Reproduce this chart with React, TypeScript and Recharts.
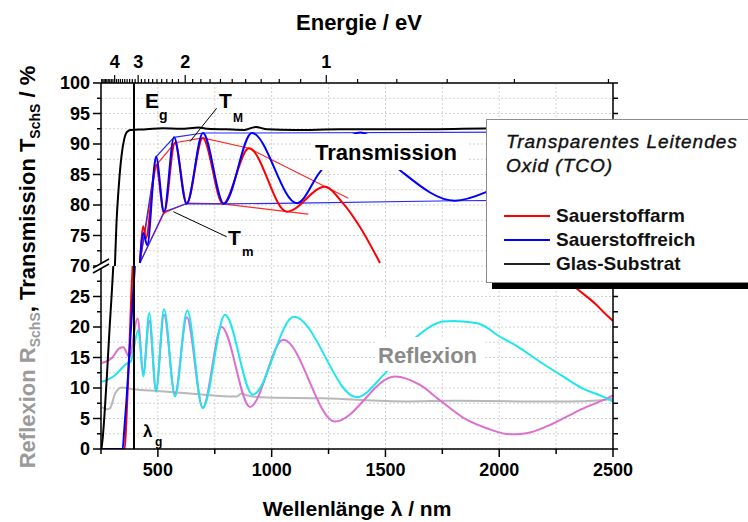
import React from 'react';
import { LineChart, Line, XAxis, YAxis, CartesianGrid, ReferenceLine, Legend } from 'recharts';

const FONT = '"Liberation Sans", Arial, Helvetica, sans-serif';

// y axis is broken: 30..70 % is cut out
const BREAK_LOW = 30;
const BREAK_HIGH = 70;
const GAP = BREAK_HIGH - BREAK_LOW;

type Pt = [number, number];

// Transmission (wavelength nm, %)
const GLASS_T: Pt[] = [
  [252, 0], [258, 2], [266, 6], [276, 12], [288, 20], [298, 26], [304, 30], [308, 50], [311, 70],
  [318, 77], [328, 83], [340, 88], [352, 90.8], [365, 92.0], [380, 92.3], [450, 92.4], [520, 92.6],
  [600, 92.5], [680, 92.7], [720, 92.5], [800, 92.4], [880, 92.3], [930, 92.8], [980, 92.4],
  [1100, 92.3], [1300, 92.4], [1600, 92.4], [2000, 92.6], [2500, 92.7],
];
const RED_T: Pt[] = [
  [330, 0], [354, 0], [362, 5], [370, 12], [378, 20], [384, 26], [389, 30], [405, 50],
  [421, 70.5], [436, 76.5], [447, 74.5], [492, 86.5], [527, 78.7], [575, 90.2], [627, 80.3],
  [697, 91.0], [786, 80.2], [900, 89.3], [1067, 78.9], [1234, 83.0], [1313, 80.3], [1388, 76.4],
  [1476, 70.5], [1600, 60], [1900, 45], [2150, 34], [2220, 30], [2347, 26.1], [2428, 23.6],
  [2457, 22.5], [2500, 21.0],
];
const BLUE_T: Pt[] = [
  [252, 0], [345, 0], [352, 3], [362, 8], [372, 14], [382, 20], [392, 26], [399, 30], [410, 50],
  [421, 70.5], [436, 75.4], [453, 73.4], [492, 87.9], [527, 78.9], [571, 91.1], [626, 80.2],
  [698, 91.8], [790, 80.2], [913, 91.8], [1111, 80.3], [1212, 85.4], [1390, 91.9], [1564, 85.7],
  [1805, 80.7], [1942, 82.1], [2150, 87], [2450, 91.8], [2500, 91.7],
];

// envelopes T_M / T_m
const BLUE_TMAX: Pt[] = [[421, 70.5], [492, 87.9], [571, 91.1], [698, 91.8], [913, 91.8], [2500, 92.0]];
const BLUE_TMIN: Pt[] = [[421, 70.5], [527, 78.9], [626, 80.2], [790, 80.2], [1111, 80.3], [1805, 80.7], [2500, 80.9]];
const RED_TMAX: Pt[] = [[421, 70.5], [492, 86.5], [575, 90.2], [697, 91.0], [900, 89.3], [1337, 81.1]];
const RED_TMIN: Pt[] = [[421, 70.5], [527, 78.7], [627, 80.3], [786, 80.2], [1067, 78.9], [1161, 78.5]];

// Reflection
const GLASS_R: Pt[] = [
  [253, 6.9], [275, 6.5], [290, 6.7], [312, 9.1], [341, 10.1], [392, 9.8], [500, 9.5], [641, 9.1],
  [846, 8.6], [868, 9.1], [890, 8.8], [949, 8.5], [1227, 8.3], [1593, 7.8], [1800, 7.9],
  [2100, 7.8], [2300, 7.8], [2450, 8.0], [2500, 8.3],
];
const PINK_R: Pt[] = [
  [253, 14.1], [300, 15.0], [330, 16.5], [348, 16.7], [374, 15.1], [411, 21.4], [436, 12.5],
  [462, 21.0], [492, 9.8], [527, 22.0], [575, 9.0], [627, 21.6], [697, 6.8], [780, 20.0],
  [905, 6.9], [1051, 17.9], [1278, 4.5], [1542, 11.9], [1652, 10.5], [1739, 8.0], [1857, 4.8],
  [1945, 3.4], [2047, 2.4], [2120, 2.6], [2208, 3.7], [2296, 5.3], [2384, 6.9], [2457, 8.0],
  [2500, 8.8],
];
const CYAN_R: Pt[] = [
  [253, 11.0], [312, 12.1], [363, 14.0], [380, 14.3], [414, 19.5], [436, 11.9], [462, 22.3],
  [492, 9.4], [527, 22.9], [575, 8.6], [629, 22.7], [697, 6.7], [795, 22.0], [917, 8.9],
  [1098, 21.7], [1373, 8.5], [1498, 12.4], [1634, 18.3], [1753, 20.9], [1800, 21.0], [1840, 20.9],
  [1915, 20.5], [2003, 18.4], [2076, 16.9], [2179, 14.3], [2280, 11.9], [2368, 9.9], [2456, 8.6],
  [2500, 7.8],
];

// ticks
const X_TICKS = [250, 500, 750, 1000, 1250, 1500, 1750, 2000, 2250, 2500];
const X_LABELED = [500, 1000, 1500, 2000, 2500];
const EV_TICKS = [
  4.9, 4.8, 4.7, 4.6, 4.5, 4.4, 4.3, 4.2, 4.1, 4, 3.9, 3.8, 3.7, 3.6, 3.5, 3.4, 3.3, 3.2, 3.1, 3,
  2.9, 2.8, 2.7, 2.6, 2.5, 2.4, 2.3, 2.2, 2.1, 2, 1.9, 1.8, 1.7, 1.6, 1.5, 1.4, 1.3, 1.2, 1.1, 1,
  0.9, 0.8, 0.7, 0.6, 0.5,
];
const EV_LABELED = [1, 2, 3, 4];
const Y_TICKS = [
  0, 2.5, 5, 7.5, 10, 12.5, 15, 17.5, 20, 22.5, 25, 27.5, 30, 32.5, 35, 37.5, 40, 42.5, 45, 47.5,
  50, 52.5, 55, 57.5, 60,
];
const Y_MAJOR = [0, 5, 10, 15, 20, 25, 30, 35, 40, 45, 50, 55, 60];
const Y_LABELS = ['0', '5', '10', '15', '20', '25', '70', '75', '80', '85', '90', '95', '100'];

const LEGEND_ITEMS = [
  { label: 'Sauerstoffarm', color: '#ff0000' },
  { label: 'Sauerstoffreich', color: '#0000ff' },
  { label: 'Glas-Substrat', color: '#222222' },
];

const toPlot = (v: number) => (v <= BREAK_LOW ? v : v >= BREAK_HIGH ? v - GAP : null);
const asT = (pts: Pt[]) => pts.map(([x, y]) => ({ x, y: toPlot(y) }));
const asR = (pts: Pt[]) => pts.map(([x, y]) => ({ x, y }));
const nmFromEv = (e: number) => 1240 / e;

const SERIES = [
  { key: 'gr', data: asR(GLASS_R), color: '#b8b8b8', w: 2, type: 'monotone' },
  { key: 'pr', data: asR(PINK_R), color: '#dc6fd0', w: 2, type: 'monotone' },
  { key: 'cr', data: asR(CYAN_R), color: '#1ee6ee', w: 2, type: 'monotone' },
  { key: 'rmax', data: asT(RED_TMAX), color: '#ff2a2a', w: 1.2, type: 'linear' },
  { key: 'rmin', data: asT(RED_TMIN), color: '#ff2a2a', w: 1.2, type: 'linear' },
  { key: 'bmax', data: asT(BLUE_TMAX), color: '#2a2aff', w: 1.2, type: 'linear' },
  { key: 'bmin', data: asT(BLUE_TMIN), color: '#2a2aff', w: 1.2, type: 'linear' },
  { key: 'gt', data: asT(GLASS_T), color: '#000000', w: 2, type: 'monotone' },
  { key: 'rt', data: asT(RED_T), color: '#ff0000', w: 2, type: 'monotone' },
  { key: 'bt', data: asT(BLUE_T), color: '#0000ff', w: 2, type: 'monotone' },
];

const tickText = { fontFamily: FONT, fontWeight: 'bold' as const, fontSize: 18, fill: '#000' };

const LeftTick = ({ x, y, payload }: any) => {
  const i = Y_MAJOR.indexOf(payload.value);
  const len = i >= 0 ? 8 : 4;
  return (
    <g>
      <line x1={x - len} x2={x} y1={y} y2={y} stroke="#000" strokeWidth={1.5} />
      {i >= 0 && (
        <text x={x - len - 3} y={y} dy="0.36em" textAnchor="end" {...tickText}>
          {Y_LABELS[i]}
        </text>
      )}
    </g>
  );
};

const RightTick = ({ x, y }: any) => (
  <line x1={x} x2={x + 5} y1={y} y2={y} stroke="#000" strokeWidth={1.5} />
);

const BottomTick = ({ x, y, payload }: any) => {
  const major = X_LABELED.includes(payload.value);
  const len = major ? 8 : 5;
  return (
    <g>
      <line x1={x} x2={x} y1={y} y2={y + len} stroke="#000" strokeWidth={1.5} />
      {major && (
        <text x={x} y={y + 27} textAnchor="middle" {...tickText}>
          {payload.value}
        </text>
      )}
    </g>
  );
};

const TopTick = ({ x, y, payload }: any) => {
  const ev = 1240 / payload.value;
  const label = EV_LABELED.find((e) => Math.abs(e - ev) < 0.01);
  const len = label !== undefined ? 8 : 4;
  return (
    <g>
      <line x1={x} x2={x} y1={y} y2={y - len} stroke="#000" strokeWidth={1.2} />
      {label !== undefined && (
        <text x={x} y={y - 15} textAnchor="middle" {...tickText}>
          {label}
        </text>
      )}
    </g>
  );
};

const LegendBox = () => (
  <div
    style={{
      width: 270,
      height: 164,
      background: '#fff',
      border: '1px solid #8c8c8c',
      boxShadow: '6px 6px 0 #000',
      boxSizing: 'border-box',
      fontFamily: FONT,
      position: 'relative',
      color: '#111',
    }}
  >
    <div
      style={{
        position: 'absolute',
        left: 19,
        top: 10,
        fontStyle: 'italic',
        fontSize: 19,
        lineHeight: '24px',
        letterSpacing: 1,
        WebkitTextStroke: '0.4px #111',
        whiteSpace: 'nowrap',
      }}
    >
      Transparentes Leitendes
      <br />
      Oxid (TCO)
    </div>
    {LEGEND_ITEMS.map((item, i) => (
      <div
        key={item.label}
        style={{ position: 'absolute', left: 17, top: 84 + i * 24, height: 24, display: 'flex', alignItems: 'center' }}
      >
        <span style={{ display: 'inline-block', width: 46, height: 2, background: item.color, marginRight: 6 }} />
        <span style={{ fontWeight: 'bold', fontSize: 19 }}>{item.label}</span>
      </div>
    ))}
  </div>
);

const axisLine = { stroke: '#000', strokeWidth: 1.5 };
const bold = { fontFamily: FONT, fontWeight: 'bold' as const };

export default function App() {
  return (
    <div style={{ position: 'absolute', left: 0, top: 0, width: 748, height: 522, overflow: 'hidden', background: '#fff' }}>
      <div style={{ position: 'relative', width: 748, height: 522 }}>
        <LineChart width={748} height={522} margin={{ top: 53, right: 125, bottom: 43, left: 41 }}>
          <CartesianGrid stroke="#d2d2d2" strokeDasharray="2 2" />
          <XAxis
            dataKey="x"
            type="number"
            domain={[250, 2500]}
            ticks={X_TICKS}
            interval={0}
            allowDataOverflow
            height={30}
            tickSize={0}
            tickMargin={0}
            tickLine={false}
            tick={<BottomTick />}
            axisLine={axisLine}
          />
          <XAxis
            xAxisId="top"
            orientation="top"
            dataKey="x"
            type="number"
            domain={[250, 2500]}
            ticks={EV_TICKS.map(nmFromEv)}
            interval={0}
            allowDataOverflow
            height={30}
            tickSize={0}
            tickMargin={0}
            tickLine={false}
            tick={<TopTick />}
            axisLine={axisLine}
          />
          <YAxis
            type="number"
            domain={[0, 60]}
            ticks={Y_TICKS}
            interval={0}
            allowDataOverflow
            width={60}
            tickSize={0}
            tickMargin={0}
            tickLine={false}
            tick={<LeftTick />}
            axisLine={axisLine}
          />
          <YAxis
            yAxisId="right"
            orientation="right"
            type="number"
            domain={[0, 60]}
            ticks={Y_TICKS}
            interval={0}
            allowDataOverflow
            width={10}
            tickSize={0}
            tickMargin={0}
            tickLine={false}
            tick={<RightTick />}
            axisLine={axisLine}
          />
          {SERIES.map((s) => (
            <Line
              key={s.key}
              data={s.data}
              dataKey="y"
              type={s.type as any}
              stroke={s.color}
              strokeWidth={s.w}
              dot={false}
              activeDot={false}
              legendType="none"
              isAnimationActive={false}
            />
          ))}
          <ReferenceLine x={395} stroke="#000" strokeWidth={2} />
          <ReferenceLine
            segment={[{ x: 758, y: toPlot(95.85) as number }, { x: 641, y: toPlot(90.4) as number }]}
            stroke="#000"
            strokeWidth={1}
          />
          <ReferenceLine
            segment={[{ x: 802, y: toPlot(74.8) as number }, { x: 568, y: toPlot(78.9) as number }]}
            stroke="#000"
            strokeWidth={1}
          />
          <Legend
            layout="vertical"
            align="center"
            verticalAlign="middle"
            content={() => <LegendBox />}
            wrapperStyle={{ left: 486, top: 119, width: 270, height: 164 }}
          />
        </LineChart>
        <svg width={748} height={522} style={{ position: 'absolute', left: 0, top: 0, pointerEvents: 'none' }}>
          <text x={359} y={30} textAnchor="middle" fontSize={22} {...bold}>Energie / eV</text>
          <text x={357} y={516} textAnchor="middle" fontSize={21} {...bold}>Wellenlänge λ / nm</text>
          <text x={35} y={267} transform="rotate(-90 35 267)" textAnchor="middle" fontSize={22} {...bold}>
            <tspan fill="#9a9a9a">Reflexion R</tspan>
            <tspan fill="#9a9a9a" fontSize={14} dy={5}>SchS</tspan>
            <tspan fill="#000" dy={-5}>, Transmission T</tspan>
            <tspan fill="#000" fontSize={14} dy={5}>SchS</tspan>
            <tspan fill="#000" dy={-5}> / %</tspan>
          </text>
          {/* axis break */}
          <polygon points="93,268 109,259 109,264 93,273" fill="#fff" />
          <line x1={93} y1={268} x2={109} y2={259} stroke="#000" strokeWidth={1.5} />
          <line x1={93} y1={273} x2={109} y2={264} stroke="#000" strokeWidth={1.5} />
          {/* annotations */}
          <text x={145} y={108} fontSize={21} {...bold}>E</text>
          <text x={159} y={120} fontSize={14} {...bold}>g</text>
          <text x={219} y={108} fontSize={21} {...bold}>T</text>
          <text x={233} y={122} fontSize={12} {...bold}>M</text>
          <text x={228} y={245} fontSize={21} {...bold}>T</text>
          <text x={242} y={256} fontSize={13} {...bold}>m</text>
          <text x={143} y={437} fontSize={17} {...bold}>λ</text>
          <text x={155} y={446} fontSize={12} {...bold}>g</text>
          <rect x={312} y={134} width={157} height={36} fill="#fff" />
          <text x={315} y={160} fontSize={22} {...bold}>Transmission</text>
          <rect x={375} y={337} width={110} height={34} fill="#fff" />
          <text x={378} y={363} fontSize={22} fill="#8a8a8a" {...bold}>Reflexion</text>
        </svg>
      </div>
    </div>
  );
}
